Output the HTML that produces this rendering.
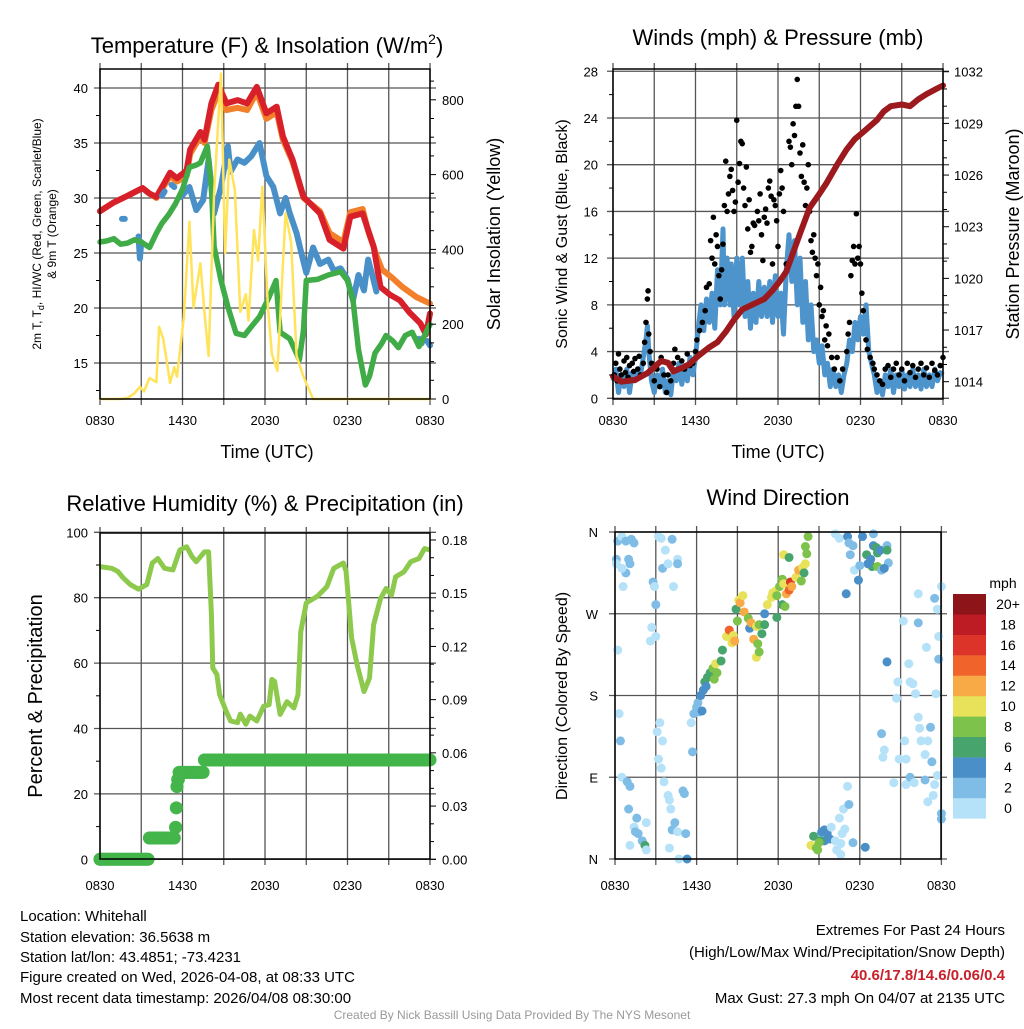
<!DOCTYPE html>
<html><head><meta charset="utf-8"><style>
body{margin:0;background:#fff;}
svg text{font-family:"Liberation Sans",Arial,sans-serif;fill:#000;}
</style></head><body>
<svg id="chart" width="1024" height="1024" viewBox="0 0 1024 1024" xmlns="http://www.w3.org/2000/svg">
<rect width="1024" height="1024" fill="#fff"/>
<g id="grids"></g>
<g id="marks"></g>
<g id="axes"></g>
<g id="labels">
<text x="267" y="53" font-size="22" text-anchor="middle">Temperature (F) &amp; Insolation (W/m<tspan font-size="14" dy="-9">2</tspan><tspan dy="9">)</tspan></text>
<text transform="translate(41,234) rotate(-90)" font-size="12" text-anchor="middle">2m T, T<tspan font-size="9" dy="3">d</tspan><tspan dy="-3">, HI/WC (Red, Green, Scarlet/Blue)</tspan></text>
<text transform="translate(56,234) rotate(-90)" font-size="12" text-anchor="middle">&amp; 9m T (Orange)</text>
<text transform="translate(500,234) rotate(-90)" font-size="18" text-anchor="middle">Solar Insolation (Yellow)</text>
<text x="267" y="458" font-size="18" text-anchor="middle">Time (UTC)</text>

<text x="778" y="45" font-size="22" text-anchor="middle">Winds (mph) &amp; Pressure (mb)</text>
<text transform="translate(567,234) rotate(-90)" font-size="16" text-anchor="middle">Sonic Wind &amp; Gust (Blue, Black)</text>
<text transform="translate(1019,234) rotate(-90)" font-size="18" text-anchor="middle">Station Pressure (Maroon)</text>
<text x="778" y="458" font-size="18" text-anchor="middle">Time (UTC)</text>

<text x="265" y="511" font-size="22" text-anchor="middle">Relative Humidity (%) &amp; Precipitation (in)</text>
<text transform="translate(42,696) rotate(-90)" font-size="20" text-anchor="middle">Percent &amp; Precipitation</text>

<text x="778" y="505" font-size="22" text-anchor="middle">Wind Direction</text>
<text transform="translate(567,696) rotate(-90)" font-size="16" text-anchor="middle">Direction (Colored By Speed)</text>
<text x="1003" y="588" font-size="14" text-anchor="middle">mph</text>

<g font-size="15">
<text x="20" y="921">Location: Whitehall</text>
<text x="20" y="942">Station elevation: 36.5638 m</text>
<text x="20" y="962">Station lat/lon: 43.4851; -73.4231</text>
<text x="20" y="982">Figure created on Wed, 2026-04-08, at 08:33 UTC</text>
<text x="20" y="1003">Most recent data timestamp: 2026/04/08 08:30:00</text>
<text x="1005" y="935" text-anchor="end">Extremes For Past 24 Hours</text>
<text x="1005" y="957" text-anchor="end">(High/Low/Max Wind/Precipitation/Snow Depth)</text>
<text x="1005" y="980" text-anchor="end" font-weight="bold" style="fill:#c8202a">40.6/17.8/14.6/0.06/0.4</text>
<text x="1005" y="1003" text-anchor="end">Max Gust: 27.3 mph On 04/07 at 2135 UTC</text>
</g>
<text x="512" y="1019" font-size="12" text-anchor="middle" style="fill:#999">Created By Nick Bassill Using Data Provided By The NYS Mesonet</text>
</g>
</svg>
<script>
// ---------- DATA ----------
const timeTicks = ["0830","1430","2030","0230","0830"];
const tempTicks = [15,20,25,30,35,40];
const solarTicks = [0,200,400,600,800];
const windTicks = [0,4,8,12,16,20,24,28];
const presTicks = [1014,1017,1020,1023,1026,1029,1032];
const rhTicks = [0,20,40,60,80,100];
const precipTicks = ["0.00","0.03","0.06","0.09","0.12","0.15","0.18"];
const dirTicks = ["N","E","S","W","N"];
const speedBins = ["0","2","4","6","8","10","12","14","16","18","20+"];
const speedColors = ["#b5e2f8","#80bde6","#4a8fc7","#47a46d","#7dc24a","#e7e25a","#f7aa46","#f0632b","#dd3429","#bd1c24","#8d1519"];

const tempRed = [[0,28.8],[1,29.6],[2,30.2],[3.1,30.9],[3.6,30.4],[4.1,30.1],[4.6,31.2],[5.1,32.3],[5.6,31.8],[6.3,32.5],[6.55,34.4],[7.3,36],[7.6,35.3],[8.1,38.6],[8.6,40.3],[9.2,38.6],[10,38.9],[10.7,38.6],[11.4,40.1],[12.1,37.7],[12.85,38.3],[13.3,35.6],[14,33.5],[14.8,30.1],[16,28.6],[16.7,26.2],[17.2,25.8],[17.7,25.4],[18.2,28.3],[19.1,28.6],[19.9,25.6],[20.4,21.9],[21.1,21.2],[21.8,20.7],[22.5,19.6],[23.3,18.6],[23.7,17.6],[24,19.5]];
const tempOrange = [[0,28.8],[1,29.6],[2,30.2],[3.1,30.9],[3.6,30.4],[4.1,30],[4.6,31],[5.1,32],[5.6,31.5],[6.3,32],[6.55,34],[7.3,35.6],[7.6,35],[8.1,38],[8.6,39.6],[9.2,38],[10,38.2],[10.7,38],[11.4,39.6],[12.1,37.2],[12.85,37.8],[13.3,35.3],[14,33.3],[14.8,30],[16,28.8],[16.7,26.8],[17.7,26],[18.2,28.7],[19.1,29],[19.5,27],[20.1,24.8],[20.5,23.5],[21.2,22.8],[22,21.9],[23,21],[24,20.4]];
const tempBlue = [[1.6,28.1],[1.8,28.1],null,[2.8,26.5],[2.9,24.5],[3,26],null,[4.5,30.2],[4.7,30.6],null,[5.2,31.2],[5.4,31],null,[5.9,30.1],[6.5,31],[7,28.9],[7.5,29.8],[7.9,33.5],[8.3,28.6],[8.8,31],[9.3,34.7],[9.5,32.4],[10,33.5],[10.5,33.2],[11,33.8],[11.6,35],[12.1,32],[12.6,31],[13.1,28.6],[13.5,30],[13.8,28.6],[14.3,26.8],[14.6,25.2],[15,23.2],[15.5,25.5],[16,24],[16.6,24.4],[17,23.4],[17.5,23.6],[18,22.6],[18.4,20.7],[18.8,23],[19.2,21.6],[19.5,24.4],[19.8,23],[20.1,21.5],null,[23.2,17.2],[23.4,16.8],null,[23.8,17],[24,16.6]];
const tempGreen = [[0,26],[0.5,26.1],[1,26.3],[1.5,25.8],[2,25.9],[2.5,26.2],[3,26],[3.6,25.5],[4.1,26.8],[4.5,27.7],[5,28.5],[5.5,29.5],[6,30.8],[6.5,32.8],[7,33],[7.3,33.2],[7.8,34.7],[8.1,31],[8.3,25.6],[8.8,22.5],[9.3,20.1],[9.9,17.7],[10.5,17.5],[11,18.3],[11.6,19.2],[12.3,21],[12.8,22.5],[13.1,17.8],[13.8,17.2],[14.5,15.3],[14.8,18],[15,22.5],[15.8,22.6],[16.6,23],[17.5,23.3],[18,22.5],[18.4,20.7],[18.8,16.2],[19.3,13],[19.6,13.8],[20,15.9],[20.5,16.8],[20.8,17.5],[21.3,17],[21.7,16.4],[22.2,17.5],[22.7,17.8],[23.2,16.5],[23.6,17.5],[24,18.5]];
const solar = [[0,0],[1.5,0],[2,3],[2.5,15],[2.9,33],[3.2,20],[3.6,56],[4.1,45],[4.3,193],[4.6,160],[5.1,43],[5.4,85],[5.6,60],[6.1,220],[6.5,474],[6.8,245],[7.3,363],[7.6,230],[7.9,115],[8.3,550],[8.8,870],[9.1,390],[9.4,640],[9.8,560],[10.2,233],[10.6,280],[10.8,210],[11.2,452],[11.5,370],[11.8,568],[12.2,250],[12.5,120],[12.9,75],[13.5,497],[13.9,420],[14.3,115],[14.8,60],[15.5,0],[24,0]];

const windSpeed = [[0,1.5],[0.2,2.5],[0.4,0.5],[0.6,2],[0.8,1],[1,2.5],[1.2,0.5],[1.4,2.2],[1.6,1.5],[1.8,2.5],[2,2],[2.2,3.5],[2.4,5],[2.5,6.2],[2.6,4],[2.8,1.5],[3,0.5],[3.2,2],[3.4,1],[3.6,2.5],[3.8,0.5],[4,1.5],[4.2,0.3],[4.4,2.5],[4.6,1.5],[4.8,3],[5,1.2],[5.2,2.8],[5.4,1.5],[5.6,3.5],[5.8,2],[6,3.5],[6.2,6],[6.4,8],[6.6,5.8],[6.8,8.5],[7,6.5],[7.2,9],[7.4,6],[7.6,11],[7.8,8],[8,14.5],[8.1,8],[8.3,12],[8.5,8],[8.6,11.5],[8.8,7],[9,12],[9.2,8],[9.4,12],[9.6,7],[9.8,10],[10,6],[10.2,9],[10.4,6.5],[10.6,10],[10.8,7],[11,9.5],[11.2,7],[11.4,10],[11.6,6.5],[11.8,10.5],[12,7],[12.2,9],[12.4,5.5],[12.6,11],[12.8,14],[13,10],[13.2,13.5],[13.4,8],[13.6,12],[13.8,6.5],[14,10],[14.2,5],[14.4,8],[14.6,4],[14.8,5],[15,3],[15.2,4.5],[15.4,2],[15.6,3],[15.8,1],[16,2.5],[16.2,1],[16.4,2],[16.6,0.5],[16.8,2],[17,3],[17.2,5],[17.4,4],[17.6,6.5],[17.8,5],[18,7],[18.2,5.5],[18.4,8],[18.6,4],[18.8,3],[19,2],[19.2,0.5],[19.4,1.5],[19.6,0.3],[19.8,2],[20,1],[20.2,2.5],[20.4,0.5],[20.6,2],[20.8,1],[21,2.5],[21.2,0.8],[21.4,2],[21.6,1],[21.8,2.5],[22,1],[22.2,2],[22.4,0.8],[22.6,2.5],[22.8,1],[23,2],[23.2,1],[23.4,2.5],[23.6,1.5],[23.8,2.2],[24,2]];
const windGust = [[0.1,2],[0.2,3],[0.3,1.5],[0.4,3.8],[0.5,2.5],[0.6,2],[0.8,3.2],[0.9,2.2],[1,3.5],[1.1,1.8],[1.2,2.8],[1.4,3],[1.5,2.3],[1.6,3.4],[1.8,2.5],[1.9,3.6],[2,2],[2.2,3],[2.3,4.8],[2.4,6.5],[2.5,8.5],[2.55,9.2],[2.6,5.5],[2.7,4],[2.8,3],[3,1.5],[3.2,2.5],[3.4,1],[3.5,3.5],[3.7,2],[3.9,0.5],[4,2],[4.2,1.5],[4.4,3],[4.5,4.2],[4.7,3.5],[4.8,2.5],[5,3.2],[5.2,2.5],[5.4,3.8],[5.6,2.8],[5.8,3],[6,4],[6.1,5],[6.3,5.8],[6.5,6.5],[6.7,7.5],[6.8,9.5],[7,9.8],[7.1,13.5],[7.2,12],[7.3,15.5],[7.4,11.5],[7.5,14],[7.6,13],[7.7,10.5],[7.8,8.5],[7.9,11],[8,13.2],[8.1,16.5],[8.2,20.3],[8.3,16],[8.4,17.5],[8.5,19],[8.6,19.6],[8.7,17.8],[8.8,16],[8.9,16.8],[9,23.8],[9.1,18.5],[9.2,20.1],[9.3,22],[9.4,21.8],[9.5,18],[9.6,16.5],[9.7,19.8],[9.8,14.5],[9.9,17],[10,12.5],[10.1,13],[10.2,15],[10.3,14.8],[10.5,16],[10.6,15.2],[10.7,17.5],[10.8,14],[10.9,11.8],[11,15.5],[11.1,16.2],[11.2,15],[11.3,18],[11.4,18.6],[11.5,17.3],[11.6,11.5],[11.7,17],[11.8,16.5],[11.9,15.2],[12,13],[12.1,17.5],[12.2,19.5],[12.3,18],[12.4,16],[12.6,11.5],[12.8,22],[12.9,21.5],[13,20],[13.1,23.5],[13.2,22.5],[13.3,25],[13.4,27.3],[13.5,25],[13.6,21],[13.7,19],[13.8,21.7],[13.9,18.5],[14,16.5],[14.1,18],[14.2,20],[14.3,16],[14.4,13.5],[14.5,12.5],[14.6,14],[14.7,12],[14.8,10.5],[14.9,11.5],[15,8],[15.1,9.5],[15.2,7],[15.3,7.5],[15.4,5],[15.5,6.2],[15.6,4.5],[15.7,5.5],[15.9,3.5],[16.1,2.5],[16.3,3.5],[16.5,1.5],[16.7,2.5],[17,4],[17.1,5.5],[17.2,6.5],[17.3,10.5],[17.4,11.8],[17.5,13],[17.6,11.5],[17.7,15.8],[17.8,12],[17.9,13],[18,11.5],[18.1,9],[18.2,7.5],[18.4,5],[18.5,4.2],[18.7,3.5],[18.9,3],[19,2.5],[19.2,2],[19.4,1.5],[19.6,1.2],[19.8,2.5],[20,2.8],[20.2,1.8],[20.4,2.5],[20.6,3],[20.8,2],[21,2.5],[21.2,1.5],[21.4,3],[21.6,2.2],[21.8,2.8],[22,1.8],[22.2,2.5],[22.4,3],[22.6,2],[22.8,2.6],[23,1.8],[23.2,3],[23.4,2.4],[23.6,2],[23.8,2.8],[24,3.5]];
const pressure = [[0,1014.3],[0.6,1014],[1.6,1014.1],[2.5,1014.5],[3.5,1015.2],[4,1015.1],[4.4,1014.6],[5,1014.8],[5.5,1015],[6.2,1015.5],[7,1016],[7.6,1016.3],[8.2,1016.9],[8.8,1017.6],[9.4,1018.2],[10.2,1018.5],[11,1018.8],[11.6,1019.3],[12.1,1019.8],[12.6,1020.4],[13.1,1021.5],[13.6,1022.6],[14.3,1024.1],[15,1024.9],[15.5,1025.5],[16.3,1026.6],[17,1027.5],[17.6,1028.1],[18.2,1028.5],[19.2,1029.2],[19.7,1029.7],[20.2,1030],[21,1030.1],[21.6,1030],[22.2,1030.4],[22.8,1030.7],[23.5,1031],[24,1031.2]];

const humidity = [[0,89.5],[0.85,89],[1.3,88],[1.7,86],[2.2,84],[2.8,82.6],[3.4,84],[3.8,90.6],[4.2,92],[4.7,89],[5.3,88.5],[5.8,94.6],[6.3,95.6],[6.7,92.5],[7,91],[7.6,94],[7.9,94],[8.1,75],[8.2,58.5],[8.5,56.5],[8.7,50.4],[9.2,45],[9.5,42.3],[10,41.8],[10.2,44.4],[10.6,41.3],[10.9,43.8],[11.4,42.3],[11.9,46.8],[12.3,47.3],[12.5,55],[12.7,54.4],[13.1,44.3],[13.6,48.2],[14.1,46.3],[14.4,50.3],[14.6,69.7],[15,78.4],[15.8,80.4],[16.5,83.4],[17,89],[17.7,90.6],[17.9,88],[18.3,67.7],[18.7,59.5],[19.2,51.3],[19.6,55.4],[19.9,71.7],[20.4,79.7],[20.8,82.8],[21.2,80.8],[21.5,86.4],[22.1,87.9],[22.6,91],[23.2,92],[23.6,95],[24,94.6]];
const precipSteps = [[0,0],[3.6,0.012],[5.5,0.018],[5.55,0.029],[5.6,0.041],[5.65,0.045],[5.75,0.049],[7.6,0.056]];

const dirObs = [[0.1,330,2],[0.2,350,3],[0.5,355,1],[0.8,350,2],[1.2,352,3],[1.4,348,3],[1,330,3],[1.1,325,3],[0.8,315,2],[0.6,300,1],[0.5,320,1],[0.1,325,1],
[2.8,305,3],[3.2,355,1],[3.4,353,1],[4.2,352,2],[3.7,340,1],[3.5,320,2],[3.9,325,1],[4.6,330,1],[4.6,325,3],[4.3,300,1],[2.9,300,1],[3,280,3],[2.7,255,1],[0.2,230,1],[3,245,1],[2.6,240,1],
[0.3,160,1],[0.4,130,3],[3.3,150,1],[3.1,140,1],[3.5,130,1],[3.2,110,1],[3.4,100,1],[5.8,160,2],[5.6,150,1],[5.7,118,2],
[0.5,90,1],[0.9,85,3],[1.1,80,3],[1,55,3],[1.6,45,3],[1.4,35,1],[1.5,30,3],[1.7,28,3],[2,20,3],[2.2,15,6],[2.3,10,1],[1.1,15,1],[2.3,40,1],[3.6,85,1],[3.9,70,1],[4,65,1],[4.1,55,1],[4.4,40,3],[4.2,32,3],[4.6,30,1],[4,12,1],[4.7,0,1],[5,75,3],[5.1,72,3],[5.2,28,3],[5.3,0,4],
[6,167,3],[6.1,172,3],[6.2,162,3],[6.4,163,4],[6.3,180,4],[6.5,186,4],[6.6,195,6],[6.7,190,4],[6.8,200,6],[7,205,7],[7.2,210,8],[7.3,198,8],[7.5,205,9],[7.4,215,10],[7.8,218,7],[7.9,230,6],[8.2,245,11],[8.4,252,15],[8.6,238,10],[8.7,246,11],[8.8,240,12],[9,262,8],[8.9,275,7],[9.1,285,11],[9.2,282,13],[9.4,290,10],[9.5,272,12],[9.8,265,8],[9.9,254,5],[10,260,13],[10.2,242,12],[10.4,256,11],[10.6,258,8],[10.8,248,6],[11,258,7],[10.5,237,9],[10.4,222,10],[10.6,228,8],[11,270,5],[11.2,280,10],[11.5,288,10],[11.6,293,11],[11.8,295,10],[11.9,290,8],[12.1,300,8],[12.3,308,8],[12.4,303,10],[12.6,292,12],[12.8,296,14],[12.9,305,16],[13,300,12],[13.3,310,10],[13.5,318,12],[13.8,321,10],[13.9,315,6],[14,325,10],[13.7,306,9],[14.1,336,8],[14,344,8],[14.2,355,8],[12.4,335,10],[12.8,332,6],[12.3,280,7],[12.5,278,9],[11.9,266,6],
[17.5,345,3],[17.3,335,2],[17.6,318,1],[18.2,355,4],[18.5,335,6],[18.8,330,5],[19,345,5],[19.2,343,6],[19.3,337,6],[19.5,340,5],[18.9,322,6],[19.3,322,8],[19.6,318,2],[20,345,2],[20.1,326,2],[19.8,320,4],[18.6,325,4],[18,323,3],[17.9,307,4],[20,340,6],[19,358,2],[16.2,358,1],[16.5,353,1],[17.1,355,4],[17,292,4],[17.2,348,2],
[22.3,292,1],[23.7,275,1],[21.2,262,1],[22.3,260,3],[23.5,287,3],[24,300,1],[23.8,245,1],[22.9,233,1],[21.6,215,1],[23.8,220,3],[20.8,195,1],[21.7,195,1],[21.9,193,1],[22.1,182,1],[23.6,182,1],[20.7,177,1],[20,217,4],
[22.3,156,1],[22.4,144,1],[22.8,115,1],[20.9,110,1],[21.4,110,1],[21.3,130,1],[22.5,130,1],[23.2,145,3],[23,130,1],[19.6,138,3],[19.8,120,1],[19.7,112,1],[23.3,107,3],[23.7,92,1],[22.8,87,3],[23.4,70,1],[23,63,1],[24,50,3],[24,44,3],[20.5,84,1],[21.4,82,1],[21.7,90,3],[22,84,1],[23.5,82,1],
[15,25,3],[15.2,30,4],[15.4,32,4],[15.6,28,4],[15.8,22,4],[15.4,20,4],[15.1,20,6],[14.6,25,6],[14.4,15,10],[14.8,12,8],[15,18,8],[14.9,10,8],[17.5,18,3],[18.4,13,4],[16.5,45,1],[16.8,55,1],[16.9,33,1],[16.7,28,1],[17.1,80,1],[17.2,60,3],[15.9,35,1],[16.2,20,1],[16.6,17,1],[16.3,10,1],[16.6,5,1]];

// ---------- SCALES ----------
const x1 = h => 100 + h*13.75;
const yT = v => 88 + (40 - v)*11;
const yS = w => 399 - w*0.374;
const x2 = h => 613 + h*13.75;
const yW = m => 398.3 - m*11.68;
const yP = p => 381.7 - (p - 1014)*17.22;
const yH = r => 859.3 - r*3.27;
const yR = p => 859.3 - p*1774;
const x4 = h => 615 + h*13.6;
const yD = d => 859 - d*0.9083;

const NS = "http://www.w3.org/2000/svg";
const G = document.getElementById("grids"), M = document.getElementById("marks"), A = document.getElementById("axes");
function mk(tag, parent, attrs){ const e=document.createElementNS(NS,tag); for(const k in attrs) e.setAttribute(k,attrs[k]); parent.appendChild(e); return e; }
function txt(parent, x, y, s, anchor, size){ const t=mk("text",parent,{x:x,y:y,"font-size":size||13,"text-anchor":anchor||"middle"}); t.textContent=s; return t; }
function pathFrom(arr, fx, fy){ let d="", pen=false; arr.forEach(p=>{ if(!p){pen=false;return;} d += (pen?"L":"M")+fx(p[0]).toFixed(1)+","+fy(p[1]).toFixed(1); pen=true;}); return d; }
function minorTicks(x, ys, dir, name){ ys.forEach(y=>{ const l=mk("line",A,{x1:x,y1:y,x2:x+dir*4,y2:y,stroke:"#000","stroke-width":1});
  
   }); }

function panelFrame(name, L, T, R, B, vx, hy){
  vx.forEach(x=>{ const l=mk("line",G,{x1:x,y1:T-6,x2:x,y2:B+6,stroke:"#555","stroke-width":1.3});
    
     });
  hy.forEach(y=>{ const l=mk("line",G,{x1:L-6,y1:y,x2:R+6,y2:y,stroke:"#555","stroke-width":1.3});
    
     });
  const r=mk("rect",A,{x:L,y:T,width:R-L,height:B-T,fill:"none",stroke:"#000","stroke-width":1.5});
  
  
}
const v3h = [0,3,6,9,12,15,18,21,24];

// ---------- PANEL 1 ----------
panelFrame("temperature", 100, 69, 430, 399, v3h.map(x1), tempTicks.map(yT));
minorTicks(100, [12.5,17.5,22.5,27.5,32.5,37.5].map(yT), -1, 'temperature-minor-tick');
minorTicks(430, [50,100,150,250,300,350,450,500,550,650,700,750,850].map(yS), 1, 'insolation-minor-tick');
tempTicks.forEach(v=>{ const t=txt(A,88,yT(v)+5,String(v),"end",13);
  
   });
solarTicks.forEach(v=>{ mk("line",A,{x1:430,y1:yS(v),x2:436,y2:yS(v),stroke:"#000"});
  const t=txt(A,442,yS(v)+5,String(v),"start",13);
  
   });
timeTicks.forEach((s,i)=>{ const t=txt(A,x1(i*6),425,s,"middle",13);
  
   });
[[tempOrange,"#f47f2b",6,"orange-9m-temp-line"],[tempRed,"#d7202a",6,"red-2m-temp-line"],[tempBlue,"#4a90c8",6,"blue-windchill-line"],[tempGreen,"#40ac48",5.5,"green-dewpoint-line"],[solar,"#ffe35a",2.5,"yellow-insolation-line"]].forEach(s=>{
  const fy = s[0]===solar ? yS : yT;
  const p=mk("path",M,{d:pathFrom(s[0],x1,fy),fill:"none",stroke:s[1],"stroke-width":s[2],"stroke-linejoin":"round","stroke-linecap":"round"});
  
  
});

// ---------- PANEL 2 ----------
panelFrame("wind", 613, 69, 943, 399, v3h.map(x2), windTicks.map(yW));
minorTicks(613, [2,6,10,14,18,22,26].map(yW), -1, 'wind-minor-tick');
minorTicks(943, [1015,1016,1018,1019,1021,1022,1024,1025,1027,1028,1030,1031].map(yP), 1, 'pressure-minor-tick');
windTicks.forEach(v=>{ const t=txt(A,598,yW(v)+5,String(v),"end",13);
  
   });
presTicks.forEach(v=>{ mk("line",A,{x1:943,y1:yP(v),x2:949,y2:yP(v),stroke:"#000"});
  const t=txt(A,954,yP(v)+5,String(v),"start",13);
  
   });
timeTicks.forEach((s,i)=>{ const t=txt(A,x2(i*6),425,s,"middle",13);
  
   });
{ const p=mk("path",M,{d:pathFrom(windSpeed,x2,yW),fill:"none",stroke:"#4d94cc","stroke-width":5,"stroke-linejoin":"round"});
  
   }
windGust.forEach(g=>{ const c=mk("circle",M,{cx:x2(g[0]),cy:yW(g[1]),r:2.8,fill:"#000"});
  
   });
{ const p=mk("path",M,{d:pathFrom(pressure,x2,yP),fill:"none",stroke:"#9c1a1e","stroke-width":6,"stroke-linejoin":"round","stroke-linecap":"round"});
  
   }

// ---------- PANEL 3 ----------
panelFrame("humidity", 100, 533, 430, 859, v3h.map(x1), rhTicks.map(yH));
minorTicks(100, [10,30,50,70,90].map(yH), -1, 'humidity-minor-tick');
minorTicks(430, [0.01,0.02,0.04,0.05,0.07,0.08,0.10,0.11,0.13,0.14,0.16,0.17].map(yR), 1, 'precip-minor-tick');
rhTicks.forEach(v=>{ const t=txt(A,88,yH(v)+5,String(v),"end",13);
  
   });
precipTicks.forEach(s=>{ const y=yR(parseFloat(s)); mk("line",A,{x1:430,y1:y,x2:436,y2:y,stroke:"#000"});
  const t=txt(A,442,y+5,s,"start",13);
  
   });
timeTicks.forEach((s,i)=>{ const t=txt(A,x1(i*6),890,s,"middle",13);
  
   });
{ const p=mk("path",M,{d:pathFrom(humidity,x1,yH),fill:"none",stroke:"#8dc94c","stroke-width":5,"stroke-linejoin":"round"});
  
   }
for(let h=0; h<=24.001; h+=0.1){
  let v=0; precipSteps.forEach(s=>{ if(h>=s[0]-1e-6) v=s[1]; });
  const c=mk("circle",M,{cx:x1(h),cy:yR(v),r:6.5,fill:"#43b54a"});
  
  
}
precipSteps.forEach(s=>{ const c=mk("circle",M,{cx:x1(s[0]),cy:yR(s[1]),r:6.5,fill:"#43b54a"});
  
   });

// ---------- PANEL 4 ----------
panelFrame("direction", 615, 532, 941, 859, v3h.map(x4), [0,90,180,270,360].map(yD));
dirTicks.forEach((s,i)=>{ const t=txt(A,598,yD(i*90)+5,s,"end",13);
  
   });
timeTicks.forEach((s,i)=>{ const t=txt(A,x4(i*6),890,s,"middle",13);
  
   });
dirObs.forEach(o=>{ const bi=Math.min(10,Math.floor(o[2]/2));
  const c=mk("circle",M,{cx:x4(o[0]),cy:yD(o[1]),r:4.5,fill:speedColors[bi]});
  
   });
// colorbar
speedBins.forEach((s,i)=>{ const top=594+(10-i)*20.4;
  const r=mk("rect",A,{x:953,y:top,width:33,height:20.6,fill:speedColors[i]});
  
  
  const t=txt(A,1008,top+15,s,"middle",14);
  
   });
</script>
</body></html>
